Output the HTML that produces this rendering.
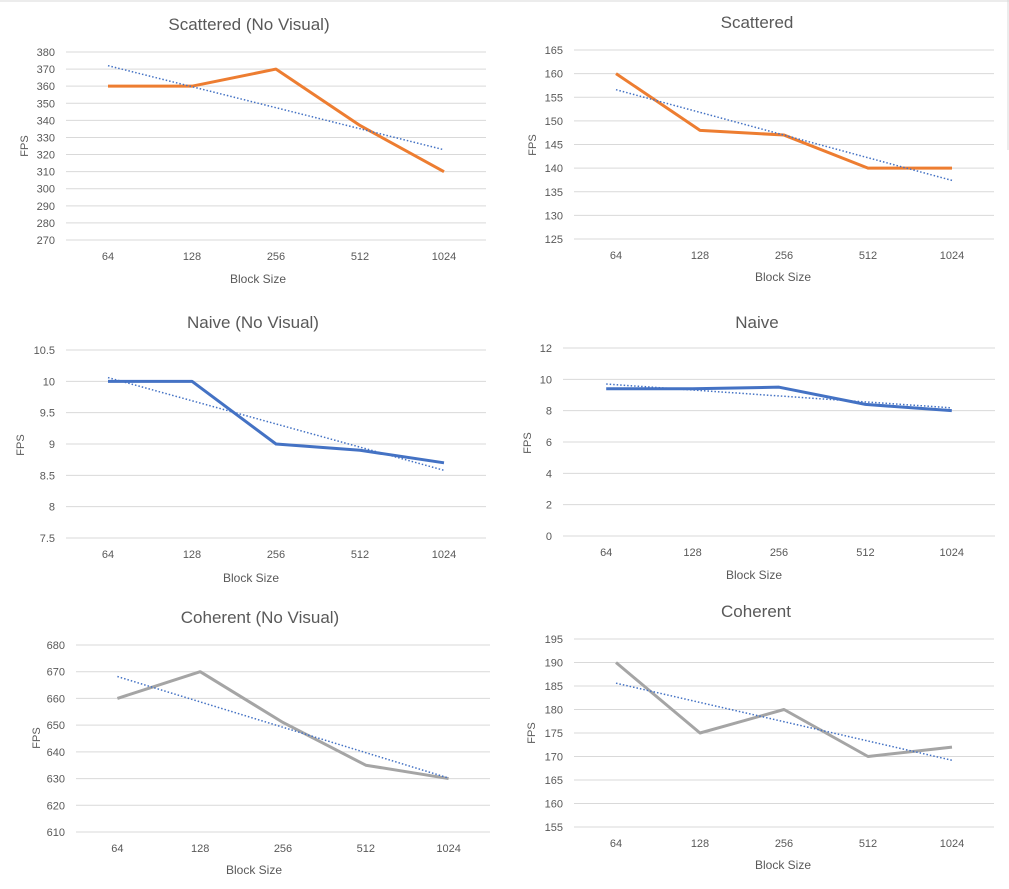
<!DOCTYPE html>
<html><head><meta charset="utf-8"><style>
html,body{margin:0;padding:0;background:#fff;}
svg{display:block;font-family:"Liberation Sans",sans-serif;}
</style></head><body>
<svg id="s" width="1009" height="889" viewBox="0 0 1009 889">
<line x1="0" y1="1" x2="1009" y2="1" stroke="#d9d9d9" stroke-width="1"/>
<line x1="1008" y1="0" x2="1008" y2="150" stroke="#d9d9d9" stroke-width="1"/>
</svg>
<script>
const categories = ["64","128","256","512","1024"];
const scatteredNoVisual = [360,360,370,337,310];
const scatteredVisual = [160,148,147,140,140];
const naiveNoVisual = [10,10,9,8.9,8.7];
const naiveVisual = [9.4,9.4,9.5,8.4,8.0];
const coherentNoVisual = [660,670,651,635,630];
const coherentVisual = [190,175,180,170,172];
const ticksScatteredNV = [270,280,290,300,310,320,330,340,350,360,370,380];
const ticksScatteredV = [125,130,135,140,145,150,155,160,165];
const ticksNaiveNV = [7.5,8,8.5,9,9.5,10,10.5];
const ticksNaiveV = [0,2,4,6,8,10,12];
const ticksCoherentNV = [610,620,630,640,650,660,670,680];
const ticksCoherentV = [155,160,165,170,175,180,185,190,195];

const NS="http://www.w3.org/2000/svg";
const svg=document.getElementById('s');
function mk(tag,attrs,parent){const e=document.createElementNS(NS,tag);for(const k in attrs)e.setAttribute(k,attrs[k]);(parent||svg).appendChild(e);return e;}

function chart(cfg,vals,ticks,name){
  const g=mk('g',{});
  
  
  const tmin=ticks[0],tmax=ticks[ticks.length-1];
  const y=v=>cfg.yb+(cfg.yt-cfg.yb)*(v-tmin)/(tmax-tmin);
  const step=(cfg.x1-cfg.x0)/categories.length;
  const x=i=>cfg.x0+step*(i+0.5);
  const t=mk('text',{x:cfg.tx,y:cfg.ty,'text-anchor':'middle','font-size':17,fill:'#595959'},g);
  t.textContent=cfg.title;
  
  
  ticks.forEach(v=>{
    const l=mk('line',{x1:cfg.x0,x2:cfg.x1,y1:y(v),y2:y(v),stroke:'#d9d9d9','stroke-width':1},g);
    
    
    const tt=mk('text',{x:cfg.x0-11,y:y(v)+4,'text-anchor':'end','font-size':11,fill:'#595959'},g);
    tt.textContent=String(v);
    
    
  });
  categories.forEach((c,i)=>{
    const tt=mk('text',{x:x(i),y:cfg.yb+20,'text-anchor':'middle','font-size':11,fill:'#595959'},g);
    tt.textContent=c;
    
    
  });
  const xt=mk('text',{x:cfg.bx,y:cfg.by,'text-anchor':'middle','font-size':12,fill:'#595959'},g);
  xt.textContent='Block Size';
  
  
  const yt=mk('text',{x:0,y:0,'text-anchor':'middle','font-size':11,fill:'#595959',transform:`translate(${cfg.fx},${cfg.fy}) rotate(-90)`},g);
  yt.textContent='FPS';
  
  
  // trendline (linear regression)
  const n=vals.length;let sx=0,sy=0,sxy=0,sxx=0;
  vals.forEach((v,i)=>{sx+=i;sy+=v;sxy+=i*v;sxx+=i*i;});
  const b=(n*sxy-sx*sy)/(n*sxx-sx*sx),a=(sy-b*sx)/n;
  const pts=vals.map((v,i)=>x(i)+','+y(v)).join(' ');
  const line=mk('polyline',{points:pts,fill:'none',stroke:cfg.color,'stroke-width':3,'stroke-linejoin':'round'},g);
  
  
  const tr=mk('line',{x1:x(0),y1:y(a),x2:x(n-1),y2:y(a+b*(n-1)),stroke:'#4472c4','stroke-width':1.5,'stroke-dasharray':'1.5 2'},g);
  
  
}
chart({title:'Scattered (No Visual)',x0:66,x1:486,yt:52,yb:240,tx:249,ty:30,bx:258,by:283,fx:28,fy:146,color:'#ed7d31'},scatteredNoVisual,ticksScatteredNV,'chart-scattered-no-visual');
chart({title:'Scattered',x0:574,x1:994,yt:50,yb:239,tx:757,ty:28,bx:783,by:281,fx:536,fy:145,color:'#ed7d31'},scatteredVisual,ticksScatteredV,'chart-scattered');
chart({title:'Naive (No Visual)',x0:66,x1:486,yt:350,yb:538,tx:253,ty:328,bx:251,by:582,fx:24,fy:445,color:'#4472c4'},naiveNoVisual,ticksNaiveNV,'chart-naive-no-visual');
chart({title:'Naive',x0:563,x1:995,yt:348,yb:536,tx:757,ty:328,bx:754,by:579,fx:531,fy:443,color:'#4472c4'},naiveVisual,ticksNaiveV,'chart-naive');
chart({title:'Coherent (No Visual)',x0:76,x1:490,yt:645,yb:832,tx:260,ty:623,bx:254,by:874,fx:40,fy:738,color:'#a5a5a5'},coherentNoVisual,ticksCoherentNV,'chart-coherent-no-visual');
chart({title:'Coherent',x0:574,x1:994,yt:639,yb:827,tx:756,ty:617,bx:783,by:869,fx:535,fy:733,color:'#a5a5a5'},coherentVisual,ticksCoherentV,'chart-coherent');
</script>
</body></html>
